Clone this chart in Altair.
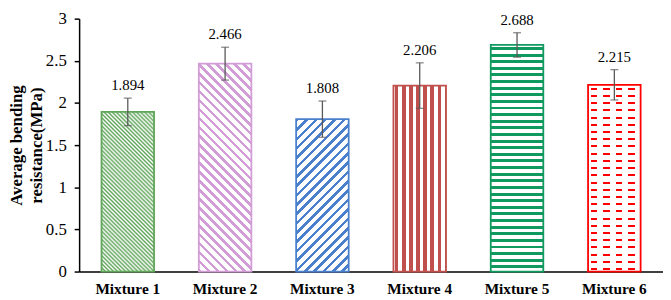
import math
import altair as alt
import pandas as pd

mixtures = ["Mixture 1", "Mixture 2", "Mixture 3", "Mixture 4", "Mixture 5", "Mixture 6"]
means = [1.894, 2.466, 1.808, 2.206, 2.688, 2.215]
errors = [0.163, 0.195, 0.215, 0.27, 0.145, 0.18]
value_labels = ["1.894", "2.466", "1.808", "2.206", "2.688", "2.215"]
colors = ["#5FA55A", "#D29CD6", "#4A7FCB", "#C0504D", "#119A5F", "#FF0000"]

df = pd.DataFrame({"mix": mixtures, "mean": means, "err": errors, "label": value_labels})

FONT = "Liberation Serif, Times New Roman, serif"
PLOT_W, PLOT_H, YMAX = 591, 256, 3.0
P_IN, P_OUT = 0.46, 0.23
step = PLOT_W / (len(mixtures) - P_IN + 2 * P_OUT)
BW = step * (1 - P_IN)
PX = PLOT_H / YMAX


def stops(color, period, on, total, phase=0.0, off="#ffffff"):
    out = [{"offset": 0, "color": off}]
    n = int(math.ceil(total / period)) + 1
    for k in range(0, n):
        a = phase + k * period
        b = a + on
        if a >= total:
            break
        ao = round(min(max(a / total, 0), 1), 5)
        bo = round(min(max(b / total, 0), 1), 5)
        out += [{"offset": ao, "color": off}, {"offset": ao, "color": color},
                {"offset": bo, "color": color}, {"offset": bo, "color": off}]
    out.append({"offset": 1, "color": off})
    return out


def soft_stops(color, period, total, off="#ffffff"):
    out = []
    n = int(math.ceil(total / (period / 2))) + 1
    for k in range(n):
        pos = k * period / 2
        o = round(min(pos / total, 1), 5)
        out.append({"offset": o, "color": color if k % 2 == 0 else off})
        if pos >= total:
            break
    return out


def diag(color, period, on, h, forward=True, soft=False):
    w = BW
    s = (w + h) / (w * w + h * h)
    total = (w + h) / math.sqrt(2)
    st = soft_stops(color, period, total) if soft else stops(color, period, on, total)
    if forward:  # "/"
        return {"gradient": "linear", "x1": 0, "y1": 0, "x2": s * w, "y2": s * h, "stops": st}
    return {"gradient": "linear", "x1": 0, "y1": 1, "x2": s * w, "y2": 1 - s * h, "stops": st}


def horiz(color, period, on, h, phase=0.0):
    return {"gradient": "linear", "x1": 0, "y1": 0, "x2": 0, "y2": 1,
            "stops": stops(color, period, on, h, phase)}


def vert(color, period, on, phase=0.0, off="#ffffff"):
    return {"gradient": "linear", "x1": 0, "y1": 0, "x2": 1, "y2": 0,
            "stops": stops(color, period, on, BW, phase, off)}


hs = [m * PX for m in means]
fills = [
    [diag(colors[0], 2.9, 1.1, hs[0], forward=False, soft=True)],
    [diag(colors[1], 6.4, 2.6, hs[1], forward=False)],
    [diag(colors[2], 6.7, 2.6, hs[2], forward=True)],
    [vert(colors[3], 7.2, 3.6, phase=1.5)],
    [horiz(colors[4], 6.7, 3.0, hs[4], phase=2.0)],
    [horiz(colors[5], 7.3, 2.0, hs[5], phase=3.0),
     vert("rgba(255,255,255,0)", 12.5, 6.5, phase=3.0, off="#ffffff")],
]

xenc = alt.X("mix:N",
             scale=alt.Scale(domain=mixtures, paddingInner=P_IN, paddingOuter=P_OUT),
             axis=alt.Axis(title=None, labelAngle=0, labelFont=FONT, labelFontSize=15.5,
                           labelFontWeight="bold", labelColor="black", labelPadding=10,
                           ticks=False, domainColor="black", domainWidth=1.5))
yaxis = alt.Axis(title=["Average bending", "resistance(MPa)"], values=[0, 0.5, 1, 1.5, 2, 2.5, 3],
                 format="~g", labelFont=FONT, labelFontSize=17, labelColor="black",
                 labelPadding=8, tickSize=5, tickColor="black", tickWidth=1.5,
                 domainColor="black", domainWidth=1.5, grid=False,
                 titleFont=FONT, titleFontSize=17, titleFontWeight="bold", titleColor="black",
                 titleLineHeight=20, titlePadding=0)
yscale = alt.Scale(domain=[0, YMAX], nice=False)

base = alt.Chart(df)
layers = []
for name, flist in zip(mixtures, fills):
    for f in flist:
        layers.append(
            base.transform_filter(alt.datum.mix == name)
            .mark_bar(fill=f, strokeWidth=0)
            .encode(x=xenc, y=alt.Y("mean:Q", scale=yscale, axis=yaxis))
        )

outline = base.mark_bar(filled=False, strokeWidth=1.8).encode(
    x=xenc, y=alt.Y("mean:Q", scale=yscale, axis=yaxis),
    color=alt.Color("mix:N", scale=alt.Scale(domain=mixtures, range=colors), legend=None))

eb = base.transform_calculate(lo="datum.mean - datum.err", hi="datum.mean + datum.err")
rule = eb.mark_rule(color="#595959", strokeWidth=1.3).encode(
    x=xenc, y=alt.Y("lo:Q", scale=yscale, axis=yaxis), y2="hi:Q")
cap_lo = eb.mark_tick(color="#595959", thickness=1.3, size=8, orient="horizontal").encode(
    x=xenc, y=alt.Y("lo:Q", scale=yscale, axis=yaxis))
cap_hi = eb.mark_tick(color="#595959", thickness=1.3, size=8, orient="horizontal").encode(
    x=xenc, y=alt.Y("hi:Q", scale=yscale, axis=yaxis))
text = eb.mark_text(font=FONT, fontSize=15, color="black", baseline="alphabetic", dy=-8).encode(
    x=xenc, y=alt.Y("hi:Q", scale=yscale, axis=yaxis), text="label:N")

chart = alt.layer(*layers, outline, rule, cap_lo, cap_hi, text).properties(
    width=PLOT_W, height=PLOT_H,
    autosize=alt.AutoSizeParams(type="none"),
    padding={"left": 72, "top": 9, "right": 0, "bottom": 27},
).configure_view(stroke=None)

chart.save("out.html", embed_options={"renderer": "svg", "actions": False})
